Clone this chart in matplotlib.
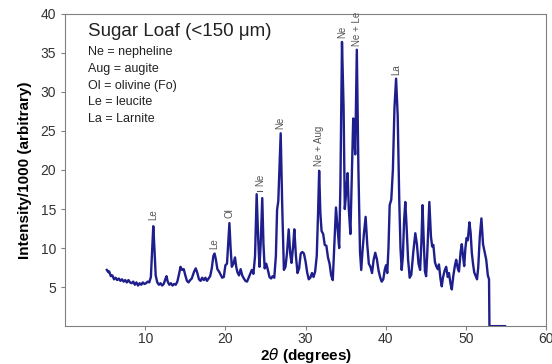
import matplotlib
matplotlib.use('Agg')
import matplotlib.pyplot as plt

plt.rcParams['font.family'] = ['Liberation Sans', 'DejaVu Sans']

# XRD pattern (2theta in degrees, intensity / 1000)
twoTheta = [5.2, 5.4, 5.5, 5.7, 5.9, 6.1, 6.3, 6.5, 6.7, 6.9, 7.1, 7.3, 7.5, 7.7, 7.9, 8.1, 8.3, 8.5,
            8.7, 8.9, 9.1, 9.3, 9.5, 9.7, 9.9, 10.1, 10.3, 10.5, 10.7, 10.85, 11.0, 11.15, 11.3, 11.5,
            11.7, 11.9, 12.1, 12.3, 12.5, 12.65, 12.8, 13.0, 13.2, 13.4, 13.6, 13.8, 14.0, 14.2, 14.4,
            14.6, 14.8, 15.0, 15.2, 15.4, 15.6, 15.8, 16.1, 16.3, 16.5, 16.7, 16.9, 17.1, 17.3, 17.5,
            17.7, 17.9, 18.1, 18.3, 18.5, 18.65, 18.8, 19.0, 19.2, 19.4, 19.6, 19.8, 20.0, 20.2, 20.35,
            20.5, 20.65, 20.8, 21.0, 21.2, 21.35, 21.5, 21.7, 21.9, 22.1, 22.3, 22.5, 22.7, 22.9, 23.1,
            23.3, 23.5, 23.7, 23.9, 24.1, 24.25, 24.4, 24.6, 24.75, 24.9, 25.1, 25.3, 25.5, 25.7, 25.9,
            26.1, 26.3, 26.45, 26.6, 26.9, 27.1, 27.3, 27.5, 27.7, 27.9, 28.1, 28.25, 28.45, 28.6, 28.8,
            29.0, 29.2, 29.4, 29.6, 29.8, 30.0, 30.2, 30.4, 30.6, 30.8, 31.0, 31.2, 31.4, 31.55, 31.7,
            31.85, 32.0, 32.2, 32.4, 32.6, 32.8, 33.0, 33.2, 33.4, 33.6, 33.8, 34.0, 34.2, 34.35, 34.55,
            34.75, 34.9, 35.1, 35.25, 35.4, 35.6, 35.8, 35.95, 36.1, 36.2, 36.4, 36.6, 36.8, 36.95, 37.1,
            37.3, 37.5, 37.7, 37.9, 38.1, 38.3, 38.5, 38.7, 38.9, 39.1, 39.3, 39.5, 39.7, 39.9, 40.05,
            40.2, 40.35, 40.5, 40.7, 40.9, 41.1, 41.3, 41.5, 41.7, 41.85, 42.0, 42.15, 42.3, 42.45, 42.6,
            42.8, 43.0, 43.2, 43.45, 43.7, 43.9, 44.1, 44.3, 44.45, 44.6, 44.75, 44.9, 45.05, 45.2, 45.45,
            45.65, 45.8, 45.95, 46.15, 46.3, 46.5, 46.65, 46.85, 47.0, 47.15, 47.35, 47.55, 47.75, 47.9,
            48.1, 48.25, 48.45, 48.65, 48.8, 49.0, 49.15, 49.35, 49.5, 49.65, 49.8, 49.95, 50.1, 50.25,
            50.45, 50.6, 50.75, 50.9, 51.05, 51.2, 51.4, 51.55, 51.75, 51.95, 52.15, 52.35, 52.55, 52.75,
            52.9, 52.95, 54.9]
intensity = [7.2, 6.9, 7.0, 6.4, 6.5, 6.0, 6.2, 5.9, 6.1, 5.8, 6.0, 5.7, 5.9, 5.6, 5.9, 5.6, 5.5, 5.7,
             5.3, 5.6, 5.2, 5.5, 5.3, 5.6, 5.4, 5.5, 5.7, 5.6, 6.3, 9.5, 12.8, 9.8, 6.5, 5.6,
             5.3, 5.5, 5.2, 5.4, 6.0, 6.4, 5.7, 5.3, 5.5, 5.2, 5.4, 5.3, 5.7, 6.6, 7.6,
             7.2, 7.3, 6.5, 5.8, 5.6, 5.9, 6.1, 7.0, 7.4, 6.8, 6.0, 5.8, 6.2, 5.9, 6.2,
             5.8, 6.1, 6.4, 7.4, 9.0, 9.3, 8.6, 7.3, 7.0, 6.6, 6.2, 6.3, 7.8, 8.0, 10.5,
             13.2, 10.0, 7.6, 8.0, 8.8, 7.6, 6.9, 6.5, 7.3, 6.5, 6.1, 5.8, 5.7, 6.2, 6.7,
             7.2, 6.7, 9.0, 16.9, 11.0, 7.6, 10.5, 16.4, 10.5, 7.4, 8.0, 7.2, 6.3, 6.1, 6.4,
             6.2, 9.0, 14.9, 16.0, 24.7, 15.0, 7.2, 7.6, 9.5, 12.4, 9.2, 8.1, 10.2, 12.4, 9.0,
             6.8, 7.4, 9.3, 9.5, 9.3, 8.3, 6.9, 6.0, 6.2, 6.8, 6.3, 7.0, 9.0, 14.0, 19.9,
             14.5, 12.2, 11.8, 10.4, 10.3, 8.8, 8.0, 6.5, 5.9, 10.5, 15.2, 12.5, 10.0, 18.0, 36.4,
             28.0, 15.0, 17.5, 19.6, 15.0, 11.8, 20.0, 26.6, 24.0, 22.0, 35.4, 20.0, 9.5, 7.2, 9.5,
             12.0, 14.0, 10.5, 8.0, 7.6, 6.8, 8.5, 9.4, 8.6, 7.2, 6.3, 5.7, 6.0, 7.3, 7.8,
             6.8, 10.0, 15.5, 16.2, 20.0, 28.0, 31.7, 27.0, 16.0, 10.0, 7.2, 9.0, 13.5, 15.9, 13.0,
             8.5, 6.2, 6.6, 9.5, 11.9, 10.5, 8.0, 7.2, 10.5, 15.5, 11.0, 7.0, 6.4, 9.5, 15.9,
             11.5, 10.2, 10.4, 8.2, 7.7, 7.3, 7.9, 6.0, 5.1, 6.2, 7.1, 7.6, 6.3, 6.8,
             5.4, 4.7, 6.5, 7.8, 8.5, 7.4, 7.0, 9.5, 10.5, 9.0, 7.7, 10.0, 11.3, 11.0,
             13.3, 12.0, 9.4, 8.0, 6.9, 6.5, 6.0, 7.5, 11.5, 13.8, 10.5, 9.5, 8.5, 6.5,
             6.0, 0.0, 0.0]

# peak labels: text, x, y of text base
peakLabels = ["Le", "Le", "Ol", "Ne", "Ne", "Ne + Aug", "Ne", "Ne + Le", "La"]
peakX = [11.0, 18.65, 20.5, 24.3, 26.9, 31.7, 34.6, 36.4, 41.3]
peakY = [13.6, 9.9, 13.8, 17.9, 25.3, 20.5, 36.9, 35.9, 32.2]

legendTitle = "Sugar Loaf (<150 \u03bcm)"
legendLines = ["Ne = nepheline", "Aug = augite", "Ol = olivine (Fo)", "Le = leucite", "La = Larnite"]

xTicks = [10, 20, 30, 40, 50, 60]
yTicks = [5, 10, 15, 20, 25, 30, 35, 40]

fig = plt.figure(figsize=(5.52, 3.64), dpi=100)
ax = fig.add_axes([0.118, 0.104, 0.871, 0.858])
ax.plot(twoTheta, intensity, color='#1e1e8c', linewidth=1.7)

for lab, px, py in zip(peakLabels, peakX, peakY):
    ax.text(px, py, lab, rotation=90, ha='center', va='bottom', fontsize=7, color='#555555')
# bracket over the Ne doublet
ax.plot([23.9, 24.6], [17.3, 17.3], color='#555555', linewidth=0.8)

ax.text(2.9, 37.7, legendTitle, fontsize=13.5, va='center', ha='left', color='#222222')
for i, line in enumerate(legendLines):
    ax.text(2.9, 35.1 - 2.15 * i, line, fontsize=9, va='center', ha='left', color='#222222')

ax.set_xlim(0, 60)
ax.set_ylim(0, 40)
ax.set_xticks(xTicks)
ax.set_yticks(yTicks)
ax.tick_params(labelsize=10, colors='#333333', length=3, color='#808080')
ax.tick_params(axis='x', pad=1.5)
for s in ax.spines.values():
    s.set_color('#808080')
ax.set_xlabel(r'2$\theta$ (degrees)', fontsize=11, fontweight='bold', labelpad=0)
ax.set_ylabel('Intensity/1000 (arbitrary)', fontsize=11, fontweight='bold', labelpad=6)

plt.savefig('out.png', dpi=100)
